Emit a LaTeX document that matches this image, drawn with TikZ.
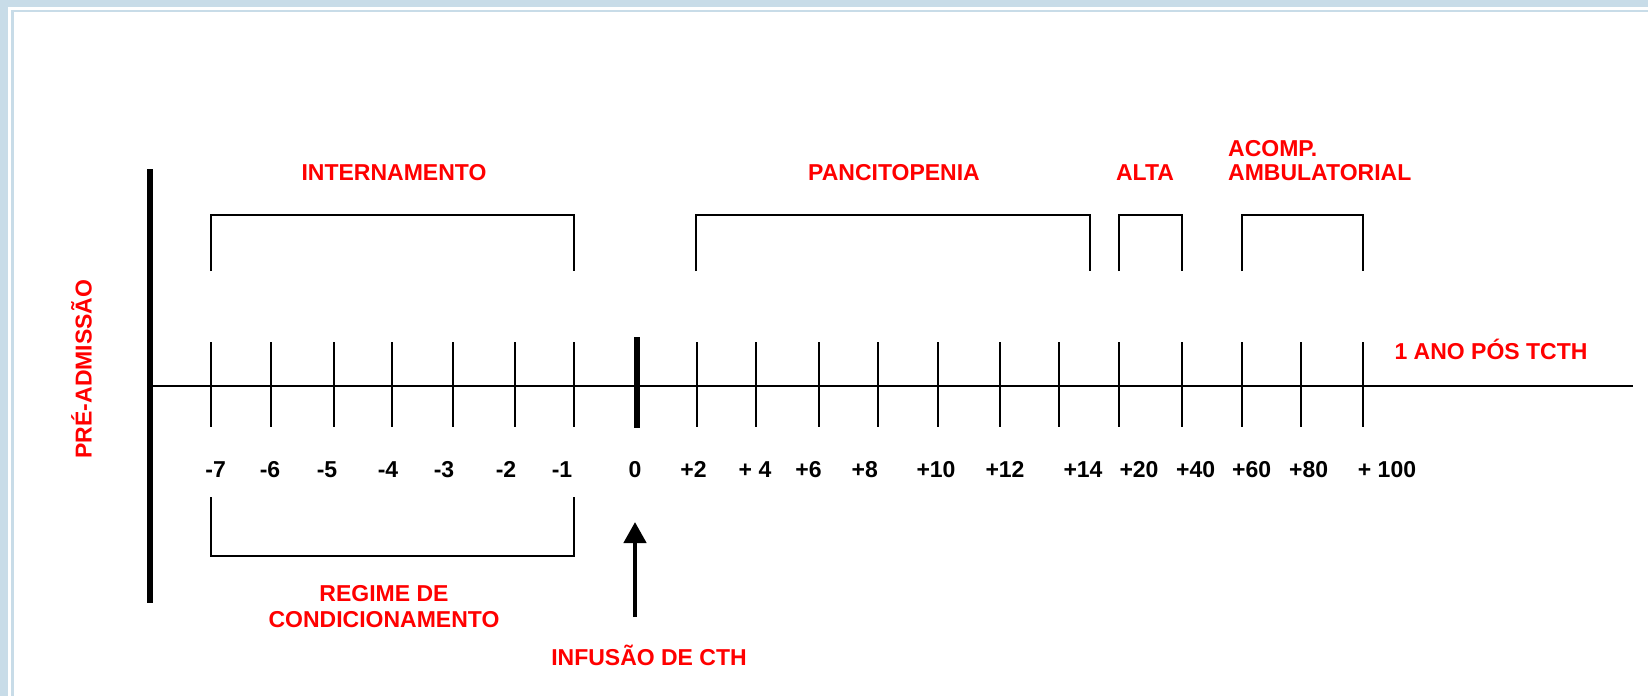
\documentclass[tikz,border=0pt]{standalone}
\usepackage{fontspec}
\setmainfont{Liberation Sans}
\usetikzlibrary{arrows.meta}
\definecolor{moldura}{RGB}{200,220,232}

\begin{document}
\begin{tikzpicture}[x=1pt,y=-1pt,>={Triangle[length=21pt,width=22pt]},
        etiq/.style={text=red,font=\fontsize{23}{26}\selectfont\bfseries,inner sep=0pt},
        dia/.style={font=\fontsize{23}{26}\selectfont\bfseries,inner sep=0pt,anchor=base},
        chave/.style={line width=2pt}]
        \useasboundingbox (0,0) rectangle (1648,696);
        % moldura
        \fill[white] (0,0) rectangle (1648,696);
        \fill[moldura] (0,0) rectangle (1648,7);
        \fill[moldura] (0,0) rectangle (8,696);
        \fill[moldura] (11,9.5) rectangle (1648,12);
        \fill[moldura] (11,9.5) rectangle (13.5,696);
        % eixo
        \draw[line width=6pt] (150,169) -- (150,603);
        \draw[line width=2pt] (150,386) -- (1633,386);
        \foreach \x in {211,270.5,333.5,392.4,452.7,514.7,574,697,756.4,818.6,878,937.6,1000,1059,1119,1182,1241.7,1301,1363}
            \draw[line width=2pt] (\x,342) -- (\x,427);
        \draw[line width=6pt] (637,337) -- (637,428);
        \foreach \x/\t [count=\i] in {215.6/-7,270/-6,327/-5,388/-4,444/-3,506/-2,562/-1,635/0,693.6/+2,755/+ 4,808.5/+6,864.7/+8,936/+10,1005/+12,1083/+14,1139/+20,1195.6/+40,1251.7/+60,1308.6/+80,1387/+ 100}
            \node[dia] (d\i) at (\x,477) {\t};
        % chaves
        \draw[chave] (211,271) |- (574,215) -- (574,271);
        \draw[chave] (696,271) |- (1090,215) -- (1090,271);
        \draw[chave] (1119,271) |- (1181.5,215) -- (1181.5,271);
        \draw[chave] (1242,271) |- (1363,215) -- (1363,271);
        \draw[chave] (211,497) |- (574,556) -- (574,497);
        % textos
        \node[etiq,anchor=base] (intern) at (394,180) {INTERNAMENTO};
        \node[etiq,anchor=base] (pancito) at (894,180) {PANCITOPENIA};
        \node[etiq,anchor=base] (alta) at (1145,180) {ALTA};
        \node[etiq,font=\fontsize{23}{24}\selectfont\bfseries,anchor=north west,align=left] (acomp) at (1228,140.5) {ACOMP.\\AMBULATORIAL};
        \node[etiq,anchor=base] (ano) at (1491,359) {1 ANO PÓS TCTH};
        \node[etiq,rotate=90,anchor=base] (pre) at (91.7,369) {PRÉ-ADMISSÃO};
        \node[etiq,anchor=north,align=center] (regime) at (384,585.5) {REGIME DE\\CONDICIONAMENTO};
        \node[etiq,anchor=base] (infusao) at (649,665) {INFUSÃO DE CTH};
        % seta
        \coordinate (base) at (635,617);
        \coordinate (ponta) at (635,522);
        \draw[->,line width=4.5pt] (base) -- (ponta);
    \end{tikzpicture}
\end{document}
